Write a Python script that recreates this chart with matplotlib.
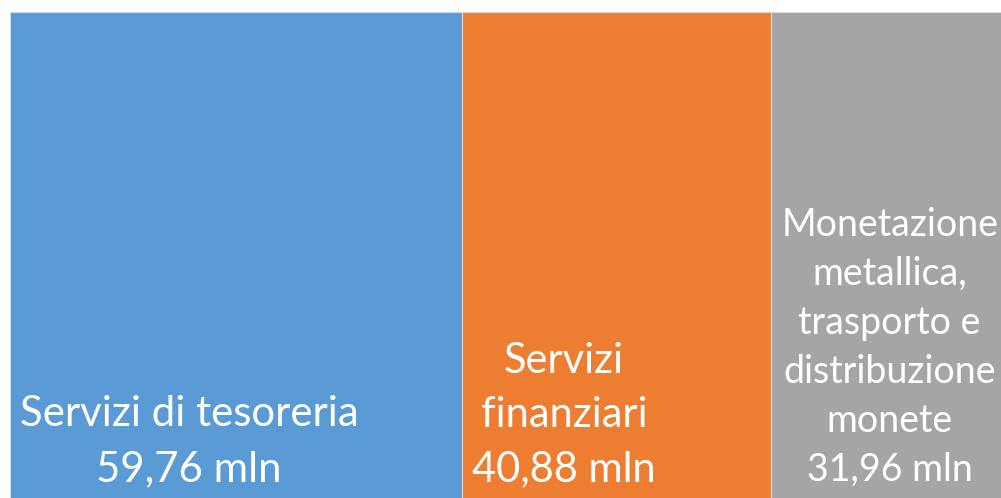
import numpy as np
import matplotlib.pyplot as plt

# treemap-style strip: one block per cost item, width ~ value
labels = ["Servizi di tesoreria", "Servizi\nfinanziari",
          "Monetazione\nmetallica,\ntrasporto e\ndistribuzione\nmonete"]
values = [59.76, 40.88, 31.96]
value_text = ["59,76 mln", "40,88 mln", "31,96 mln"]
colors = ["#5B9BD5", "#ED7D31", "#A5A5A5"]

plt.rcParams['font.family'] = ['Lato', 'DejaVu Sans']

fig = plt.figure(figsize=(10.01, 4.98), dpi=100)
# the original is cropped on the right and bottom, so the axes run past the edge
total = sum(values)
px_per_unit = 452 / values[0]
ax_w = total * px_per_unit / 1001
ax = fig.add_axes([10 / 1001, -0.05, ax_w, 1 - 12 / 498 + 0.05])

lefts = np.concatenate([[0], np.cumsum(values)[:-1]])
ax.bar(lefts, [1] * len(values), width=values, align="edge",
       color=colors, edgecolor="#d9d9d9", linewidth=0.8)
ax.set_xlim(0, total)
ax.set_ylim(0, 1)
ax.axis("off")

# label placement (fraction of block width, font size, line spacing)
label_x = [0.396, 0.33, 0.49]
label_size = [30.2, 30, 27]
label_ls = [1.55, 1.52, 1.45]
for i in range(len(values)):
    ax.text(lefts[i] + values[i] * label_x[i], 0.068,
            labels[i] + "\n" + value_text[i],
            ha="center", va="bottom", color="white",
            fontsize=label_size[i], linespacing=label_ls[i])

fig.savefig("out.png", dpi=100)
